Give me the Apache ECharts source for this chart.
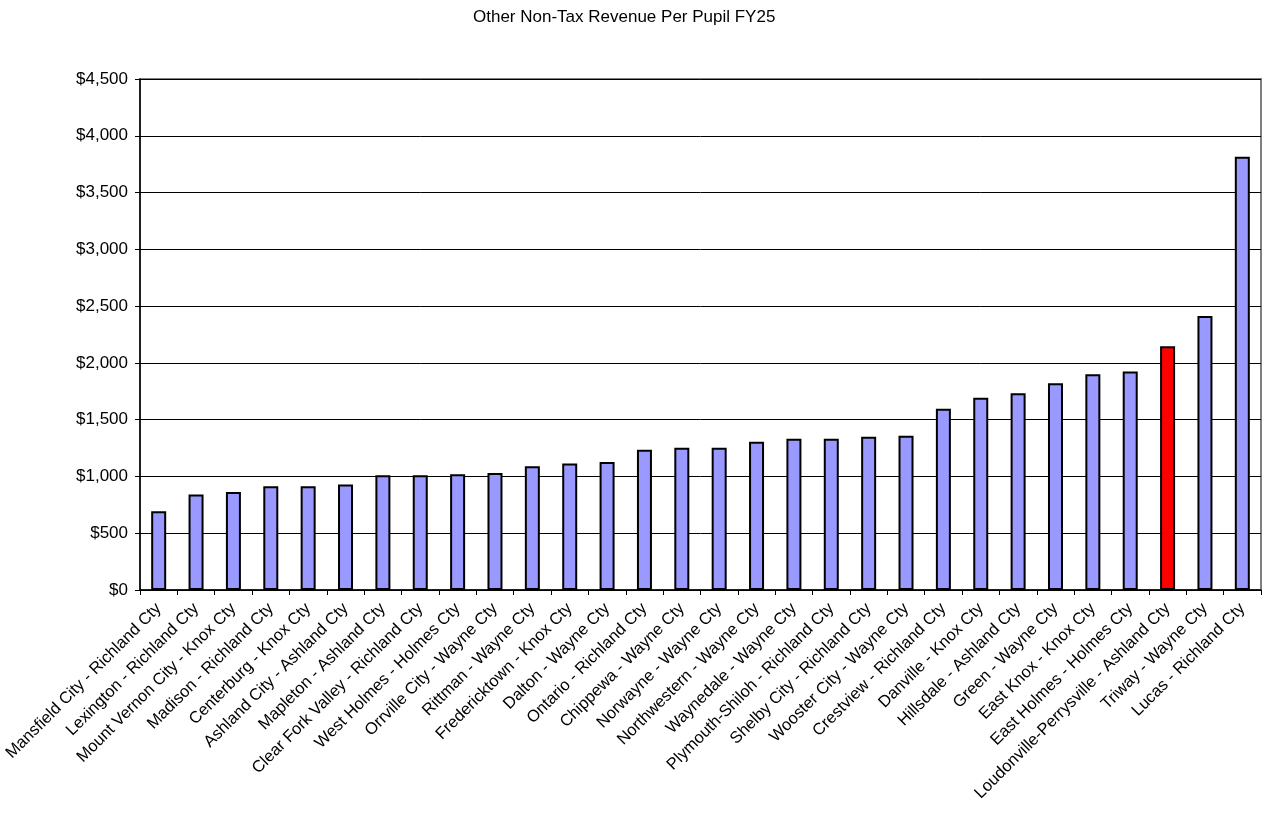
<!DOCTYPE html>
<html>
<head>
<meta charset="utf-8">
<script src="https://cdn.jsdelivr.net/npm/echarts@6/dist/echarts.min.js"></script>
<style>
  html, body { margin: 0; padding: 0; background: #fff; }
  #chart { width: 1267px; height: 826px; }
</style>
</head>
<body>
<div id="chart"></div>
<script>
var districts = [
  'Mansfield City - Richland Cty', 'Lexington - Richland Cty', 'Mount Vernon City - Knox Cty',
  'Madison - Richland Cty', 'Centerburg - Knox Cty', 'Ashland City - Ashland Cty',
  'Mapleton - Ashland Cty', 'Clear Fork Valley - Richland Cty', 'West Holmes - Holmes Cty',
  'Orrville City - Wayne Cty', 'Rittman - Wayne Cty', 'Fredericktown - Knox Cty',
  'Dalton - Wayne Cty', 'Ontario - Richland Cty', 'Chippewa - Wayne Cty',
  'Norwayne - Wayne Cty', 'Northwestern - Wayne Cty', 'Waynedale - Wayne Cty',
  'Plymouth-Shiloh - Richland Cty', 'Shelby City - Richland Cty', 'Wooster City - Wayne Cty',
  'Crestview - Richland Cty', 'Danville - Knox Cty', 'Hillsdale - Ashland Cty',
  'Green - Wayne Cty', 'East Knox - Knox Cty', 'East Holmes - Holmes Cty',
  'Loudonville-Perrysville - Ashland Cty', 'Triway - Wayne Cty', 'Lucas - Richland Cty'
];

var revenue = [
  693, 842, 863, 913, 913, 930, 1010, 1010, 1019, 1030,
  1089, 1115, 1127, 1235, 1253, 1253, 1306, 1332, 1332, 1350,
  1359, 1597, 1694, 1732, 1821, 1900, 1924, 2147, 2412, 3815
];

var highlighted = 'Loudonville-Perrysville - Ashland Cty';

var myChart = echarts.init(document.getElementById('chart'));

var option = {
  backgroundColor: '#ffffff',
  animation: false,
  title: {
    text: 'Other Non-Tax Revenue Per Pupil FY25',
    left: 468,
    top: 4,
    textStyle: {
      fontFamily: 'Liberation Sans, Arial',
      fontSize: 17,
      fontWeight: 'normal',
      color: '#000'
    }
  },
  grid: {
    left: 140,
    right: 6,
    top: 79,
    bottom: 236,
    containLabel: false,
    outerBoundsMode: 'none',
    show: true,
    borderColor: '#808080',
    borderWidth: 2
  },
  xAxis: {
    type: 'category',
    data: districts,
    axisLine: { lineStyle: { color: '#000', width: 1.5 } },
    axisTick: { show: true, length: 5, lineStyle: { color: '#000' } },
    axisLabel: {
      interval: 0,
      rotate: 45,
      margin: 16,
      fontFamily: 'Liberation Sans, Arial',
      fontSize: 16.5,
      color: '#000'
    }
  },
  yAxis: {
    type: 'value',
    min: 0,
    max: 4500,
    interval: 500,
    axisLine: { show: true, lineStyle: { color: '#000', width: 1.5 } },
    axisTick: { show: true, length: 5, lineStyle: { color: '#000' } },
    splitLine: { lineStyle: { color: '#000', width: 1 } },
    axisLabel: {
      margin: 12,
      fontFamily: 'Liberation Sans, Arial',
      fontSize: 17,
      color: '#000',
      formatter: function (v) {
        return '$' + v.toLocaleString('en-US');
      }
    }
  },
  series: [
    {
      name: 'Revenue',
      type: 'bar',
      barWidth: 15,
      data: revenue.map(function (v, i) {
        return {
          value: v,
          itemStyle: { color: districts[i] === highlighted ? '#ff0000' : '#9999ff' }
        };
      }),
      itemStyle: { borderColor: '#000', borderWidth: 2 }
    }
  ]
};

myChart.setOption(option);
</script>
</body>
</html>
